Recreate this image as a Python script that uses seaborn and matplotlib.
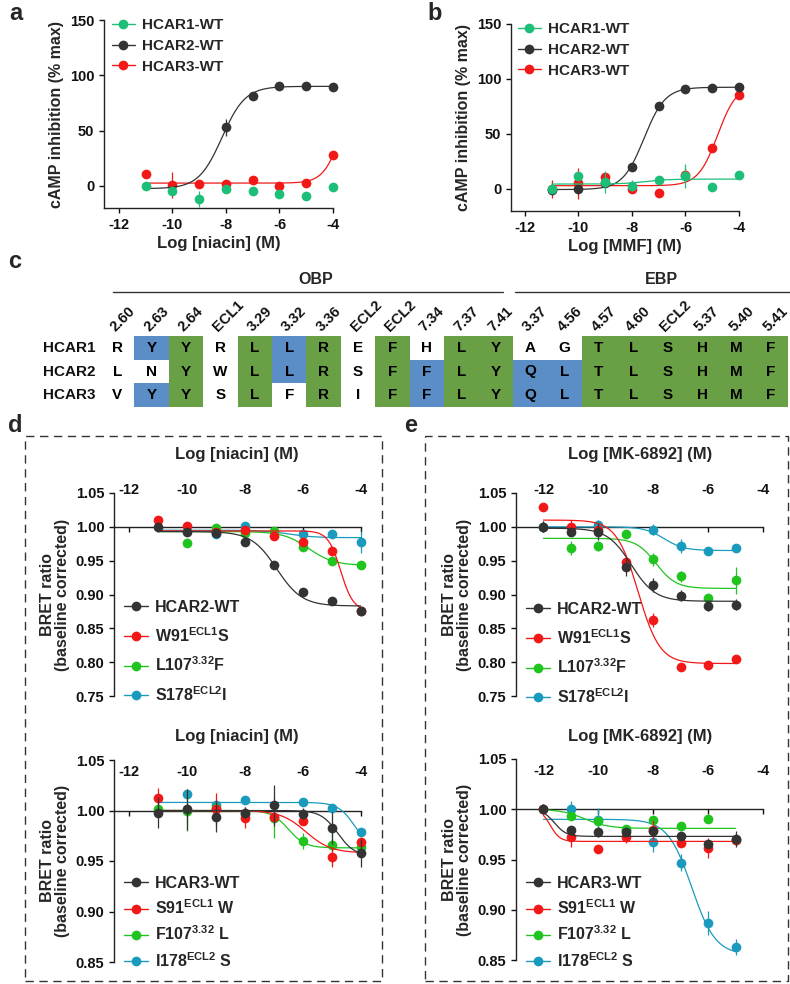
import numpy as np
import pandas as pd
import matplotlib
matplotlib.use('Agg')
import matplotlib.pyplot as plt
from matplotlib.colors import ListedColormap
from matplotlib.lines import Line2D
from matplotlib.patches import Rectangle
import seaborn as sns

nan = np.nan

# ---------------- data ----------------
dose_ab = [-11, -10, -9, -8, -7, -6, -5, -4]
dose_d = [-11, -10, -9, -8, -7, -6, -5, -4]
dose_e = [-12, -11, -10, -9, -8, -7, -6, -5]

# a: niacin, cAMP inhibition (% max)
ab_labels = ['HCAR1-WT', 'HCAR2-WT', 'HCAR3-WT']
a_mean = [[0, -5, -12, -3, -5, -7, -9, -1],
          [nan, nan, nan, 53, 81, 90, 90, 89],
          [11, 1, 2, 2, 5, 0, 3, 28]]
a_err = [[0, 0, 7, 0, 0, 3, 3, 4],
         [0, 0, 0, 7.5, 0, 0, 0, 0],
         [0, 12, 0, 0, 3, 0, 3, 0]]
# fitted curves: (low-dose plateau, high-dose plateau, logEC50, Hill slope)
a_fit = [None, (-2.5, 90, -8.15, 1.0), (2.5, 100, -3.65, 1.3)]

# b: MMF
b_mean = [[0, 12, 6, 3, 8.5, 12, 1.5, 13],
          [-0.5, 0, 5, 20, 75.5, 90.5, 92, 93],
          [0, 5, 11, 0, -3.5, 13, 37, 85.5]]
b_err = [[0, 0, 10, 5, 0, 11, 0, 3],
         [0, 0, 0, 3, 0, 0, 0, 0],
         [8, 14, 0, 4, 3, 6, 3, 3]]
b_fit = [(4.5, 9, -7.5, 1.0), (-0.5, 92.5, -7.55, 1.1), (3, 95, -4.8, 1.2)]

# d top: niacin on HCAR2 mutants (BRET)
d2_labels = ['HCAR2-WT', r'W91$^{\mathbf{ECL1}}$S', r'L107$^{\mathbf{3.32}}$F', r'S178$^{\mathbf{ECL2}}$I']
d2_mean = [[1.000, 0.992, 0.991, 0.977, 0.943, 0.904, 0.890, 0.876],
           [1.010, 1.001, 0.992, 0.996, 0.986, 0.978, 0.964, 0.876],
           [nan, 0.976, 0.999, 0.991, 0.994, 0.970, 0.949, 0.944],
           [nan, nan, 0.989, 1.001, nan, 0.989, 0.990, 0.978]]
d2_err = [[0, 0, 0.003, 0, 0.005, 0, 0.003, 0.002],
          [0, 0.005, 0, 0, 0.002, 0.004, 0.004, 0],
          [0, 0.006, 0.005, 0, 0, 0.004, 0.005, 0],
          [0, 0, 0.006, 0.006, 0, 0.004, 0.003, 0.016]]
d2_fit = [(0.993, 0.883, -6.9, 1.0), (0.994, 0.876, -4.7, 2.0),
          (0.993, 0.943, -5.8, 1.0), (0.995, 0.984, -6.5, 1.0)]

# d bottom: niacin on HCAR3 mutants
d3_labels = ['HCAR3-WT', r'S91$^{\mathbf{ECL1}}$ W', r'F107$^{\mathbf{3.32}}$ L', r'I178$^{\mathbf{ECL2}}$ S']
d3_mean = [[0.998, 1.001, 0.994, 0.998, 1.005, 0.997, 0.983, 0.958],
           [1.012, nan, 1.001, 0.993, 0.994, 0.990, 0.954, 0.969],
           [1.001, 1.000, 1.002, 0.997, 0.993, 0.970, 0.966, 0.964],
           [nan, 1.016, 1.005, 1.010, nan, 1.008, 1.002, 0.979]]
d3_err = [[0.015, 0.02, 0.015, 0.005, 0.02, 0.005, 0.016, 0.014],
          [0.01, 0, 0.016, 0.01, 0.005, 0.004, 0.01, 0.004],
          [0, 0.02, 0.008, 0.005, 0.02, 0.008, 0.02, 0.003],
          [0, 0.003, 0.003, 0.002, 0, 0.002, 0, 0.003]]
d3_fit = [(1.0, 0.955, -4.8, 1.5), (1.0, 0.958, -5.9, 1.0),
          (1.0, 0.963, -6.5, 1.5), (1.008, 0.96, -4.2, 1.5)]

# e top: MK-6892 on HCAR2 mutants
e2_mean = [[1.000, 0.992, 0.993, 0.940, 0.914, 0.898, 0.883, 0.885],
           [1.030, 1.000, 0.996, 0.948, 0.862, 0.793, 0.796, 0.804],
           [nan, 0.969, 0.972, 0.990, 0.952, 0.927, 0.895, 0.921],
           [1.000, nan, 1.002, nan, 0.996, 0.972, 0.965, 0.968]]
e2_err = [[0.008, 0.004, 0.012, 0.012, 0.01, 0.008, 0.008, 0.008],
          [0.003, 0.01, 0.004, 0.004, 0.01, 0, 0.005, 0],
          [0, 0.01, 0.007, 0.004, 0.01, 0.008, 0, 0.02],
          [0.008, 0, 0.008, 0, 0.008, 0.01, 0.005, 0.005]]
e2_fit = [(0.998, 0.890, -8.8, 1.0), (1.01, 0.798, -8.55, 1.1),
          (0.983, 0.909, -7.9, 1.2), (1.0, 0.965, -7.6, 1.2)]

# e bottom: MK-6892 on HCAR3 mutants
e3_mean = [[1.000, 0.979, 0.977, 0.977, 0.978, 0.973, 0.965, 0.970],
           [1.000, 0.972, 0.960, 0.972, 0.979, 0.966, 0.961, 0.969],
           [nan, 0.993, 0.988, 0.980, 0.989, 0.983, 0.990, 0.969],
           [nan, 1.000, 0.989, 0.979, 0.967, 0.947, 0.887, 0.863]]
e3_err = [[0.005, 0.003, 0.005, 0.003, 0.003, 0.002, 0.004, 0.008],
          [0.005, 0.01, 0.003, 0.006, 0.01, 0.003, 0.01, 0.006],
          [0, 0.003, 0.004, 0.003, 0.003, 0.003, 0, 0.003],
          [0, 0.008, 0.012, 0.004, 0.01, 0.008, 0.012, 0.008]]
e3_fit = [(1.0, 0.973, -11.6, 2.0), (1.0, 0.968, -11.75, 2.5),
          (1.0, 0.981, -10.5, 1.0), (0.99, 0.855, -6.6, 1.0)]

# c: residue table
positions = ['2.60', '2.63', '2.64', 'ECL1', '3.29', '3.32', '3.36', 'ECL2', 'ECL2', '7.34',
             '7.37', '7.41', '3.37', '4.56', '4.57', '4.60', 'ECL2', '5.37', '5.40', '5.41']
receptors = ['HCAR1', 'HCAR2', 'HCAR3']
residues = ['RYYRLLREFHLYAGTLSHMF',
            'LNYWLLRSFFLYQLTLSHMF',
            'VYYSLFRIFFLYQLTLSHMF']
# 0 = none, 1 = blue, 2 = green
shading = [[0, 1, 2, 0, 2, 1, 2, 0, 2, 0, 2, 2, 0, 0, 2, 2, 2, 2, 2, 2],
           [0, 0, 2, 0, 2, 1, 2, 0, 2, 1, 2, 2, 1, 1, 2, 2, 2, 2, 2, 2],
           [0, 1, 2, 0, 2, 0, 2, 0, 2, 1, 2, 2, 1, 1, 2, 2, 2, 2, 2, 2]]

# ---------------- style ----------------
sns.set_theme(style='ticks')
plt.rcParams['font.family'] = ['Liberation Sans', 'DejaVu Sans']
plt.rcParams.update({
    'font.weight': 'bold', 'axes.labelweight': 'bold',
    'axes.unicode_minus': False,
    'mathtext.fontset': 'custom', 'mathtext.rm': 'Liberation Sans',
    'mathtext.bf': 'Liberation Sans:bold',
    'axes.linewidth': 1.0, 'axes.edgecolor': '#222222',
    'xtick.major.width': 1.0, 'ytick.major.width': 1.0,
    'xtick.major.size': 3.5, 'ytick.major.size': 3.5,
    'xtick.color': '#111111', 'ytick.color': '#111111',
    'xtick.labelsize': 10.5, 'ytick.labelsize': 10.5,
})

W, H = 790, 984
A_COL = ['#1DBF78', '#333333', '#F21818']
D_COL = ['#333333', '#F21818', '#1FC41F', '#1A9BBE']
BLUE = '#5B8EC7'
GREEN = '#6AA045'


def px_box(l, t, r, b):
    return [l / W, 1 - b / H, (r - l) / W, (b - t) / H]


def hill(x, start, end, logec50, slope):
    return start + (end - start) / (1 + 10 ** (slope * (logec50 - x)))


def draw_series(ax, dose, means, errs, fits, colors):
    for i in reversed(range(len(means))):
        z = 10 - i
        if fits[i] is not None:
            xs = np.linspace(dose[0], dose[-1], 200)
            sns.lineplot(x=xs, y=hill(xs, *fits[i]), ax=ax, color=colors[i], lw=0.9,
                         estimator=None, legend=False, zorder=z)
        ax.errorbar(dose, means[i], yerr=errs[i], fmt='o', color=colors[i], ms=7,
                    mew=0, elinewidth=0.9, capsize=4, capthick=0.9, clip_on=False, zorder=z)


def add_legend(ax, labels, colors, x, y, size=10.5, spacing=0.45):
    handles = [Line2D([], [], color=c, marker='o', ms=7, mew=0, lw=1) for c in colors]
    ax.legend(handles, labels, loc='upper left', bbox_to_anchor=(x / W, 1 - y / H),
              bbox_transform=fig.transFigure, frameon=False, borderpad=0, borderaxespad=0,
              handlelength=1.5, handletextpad=0.45, labelspacing=spacing,
              prop=dict(size=size, weight='bold'))


fig = plt.figure(figsize=(7.9, 9.84), dpi=100)

# ---------------- a / b ----------------
for box, xl, mean, err, fit, xlab, leg in [
        ((104, 20, 333, 208), -12.56, a_mean, a_err, a_fit, 'Log [niacin] (M)', (112, 18)),
        ((511, 24, 739, 211), -12.52, b_mean, b_err, b_fit, 'Log [MMF] (M)', (518, 22))]:
    ax = fig.add_axes(px_box(*box))
    draw_series(ax, dose_ab, mean, err, fit, A_COL)
    ax.set_xlim(xl, -4)
    ax.set_ylim(-20, 150)
    ax.set_xticks([-12, -10, -8, -6, -4])
    ax.set_yticks([0, 50, 100, 150])
    sns.despine(ax=ax)
    ax.set_xlabel(xlab, fontsize=12, labelpad=3)
    ax.set_ylabel('cAMP inhibition (% max)', fontsize=11.5, labelpad=4)
    add_legend(ax, ab_labels, A_COL, *leg, size=11, spacing=0.45)

# ---------------- c: table ----------------
axc = fig.add_axes(px_box(100, 336, 788, 407))
codes = pd.DataFrame(shading, index=receptors, columns=range(len(positions)))
letters = np.array([list(r) for r in residues])
sns.heatmap(codes, ax=axc, cmap=ListedColormap(['white', BLUE, GREEN]), vmin=-0.5, vmax=2.5,
            annot=letters, fmt='', cbar=False,
            annot_kws=dict(fontsize=11, fontweight='bold', color='black'))
axc.xaxis.tick_top()
axc.set_xticks(np.arange(len(positions)) + 0.5)
axc.set_xticklabels(positions, rotation=45, ha='left', rotation_mode='anchor', fontsize=10.5)
axc.set_yticklabels(receptors, rotation=0, fontsize=11)
axc.tick_params(length=0, pad=3)
axc.tick_params(axis='x', pad=1)
axc.set_xlabel('')
axc.set_ylabel('')

fig.add_artist(Line2D([113 / W, 503 / W], [1 - 292 / H] * 2, transform=fig.transFigure,
                      color='#333333', lw=1))
fig.add_artist(Line2D([515 / W, 790 / W], [1 - 292 / H] * 2, transform=fig.transFigure,
                      color='#333333', lw=1))
fig.text(316 / W, 1 - 280 / H, 'OBP', ha='center', va='center', fontsize=11.5, fontweight='bold')
fig.text(661 / W, 1 - 280 / H, 'EBP', ha='center', va='center', fontsize=11.5, fontweight='bold')

# ---------------- d / e ----------------
bret = [
    ((114, 493, 361, 696), -12.5, dose_d, d2_mean, d2_err, d2_fit, d2_labels, (0.75, 1.05), -6.5, (124, 600), 0.68),
    ((114, 760, 361, 962), -12.5, dose_d, d3_mean, d3_err, d3_fit, d3_labels, (0.85, 1.05), -17.5, (124, 876), 0.47),
    ((516, 493, 763, 696), -13.0, dose_e, e2_mean, e2_err, e2_fit, d2_labels, (0.75, 1.05), -6.5, (526, 602), 0.68),
    ((516, 759, 763, 960), -13.0, dose_e, e3_mean, e3_err, e3_fit, d3_labels, (0.85, 1.05), -17.5, (526, 876), 0.47),
]
for box, xl, dose, mean, err, fit, labels, ylim, pad, leg, sp in bret:
    ax = fig.add_axes(px_box(*box))
    draw_series(ax, dose, mean, err, fit, D_COL)
    ax.set_xlim(xl, -4)
    ax.set_ylim(*ylim)
    ax.set_xticks([-12, -10, -8, -6, -4])
    ax.set_yticks(np.arange(ylim[0], ylim[1] + 0.001, 0.05))
    ax.yaxis.set_major_formatter('{x:.2f}')
    sns.despine(ax=ax)
    ax.spines['bottom'].set_position(('data', 1.0))
    ax.tick_params(axis='x', bottom=True, top=False, labelbottom=False, labeltop=True, pad=pad)
    ax.set_ylabel('BRET ratio\n(baseline corrected)', fontsize=11.5, labelpad=4, linespacing=1.0)
    add_legend(ax, labels, D_COL, *leg, size=11.5, spacing=sp)

for x, y, s in [(237, 454, 'Log [niacin] (M)'), (237, 737, 'Log [niacin] (M)'),
                (640, 454, 'Log [MK-6892] (M)'), (640, 737, 'Log [MK-6892] (M)')]:
    fig.text(x / W, 1 - y / H, s, ha='center', va='center', fontsize=12, fontweight='bold')

for l, r in [(25, 382), (425, 788)]:
    fig.add_artist(Rectangle((l / W, 1 - 981 / H), (r - l) / W, (981 - 436) / H,
                             transform=fig.transFigure, fill=False, ls=(0, (6, 4)),
                             lw=1, ec='#333333'))

for x, y, s in [(9, 14, 'a'), (427, 14, 'b'), (8, 262, 'c'), (8, 426, 'd'), (404, 426, 'e')]:
    fig.text(x / W, 1 - y / H, s, ha='left', va='center', fontsize=17, fontweight='bold')

fig.savefig('out.png', dpi=100)
